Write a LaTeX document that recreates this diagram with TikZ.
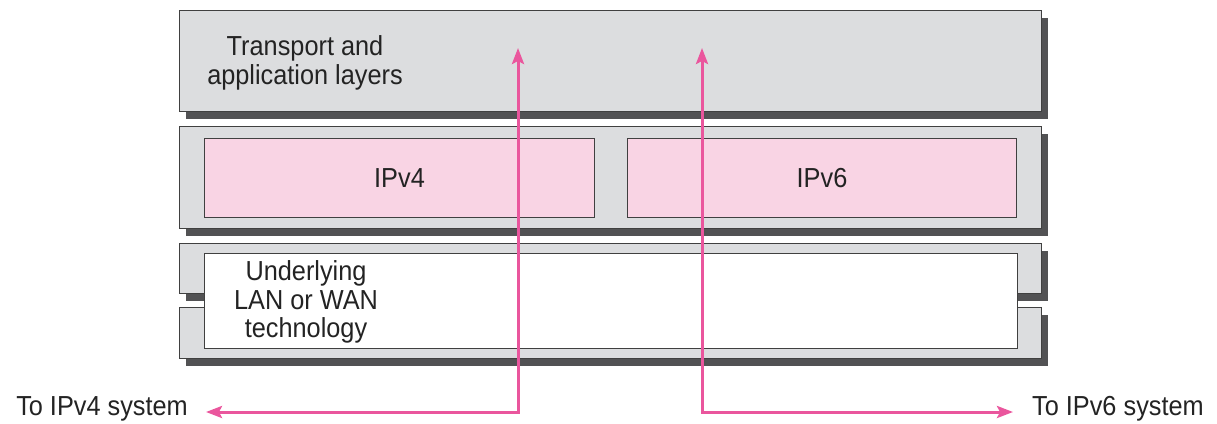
\documentclass[tikz,border=0pt]{standalone}
\usepackage{fontspec}
\setmainfont{Liberation Sans}[FakeStretch=0.92]
\usetikzlibrary{arrows.meta,shadows}
\definecolor{boxgray}{RGB}{220,221,223}
\definecolor{shadowgray}{RGB}{82,82,84}
\definecolor{ipfill}{RGB}{249,212,228}
\definecolor{arrowpink}{RGB}{234,86,157}
\definecolor{txt}{RGB}{35,35,35}
\tikzset{
  layer/.style={draw=black!75, fill=boxgray, line width=1pt, inner sep=0pt, anchor=north west,
    drop shadow={shadow xshift=6pt, shadow yshift=-7pt, fill=shadowgray, opacity=1}},
  ipbox/.style={draw=black!75, fill=ipfill, line width=1pt, inner sep=0pt, anchor=north west},
  netbox/.style={draw=black!75, fill=white, line width=1pt, inner sep=0pt, anchor=north west},
  lbl/.style={text=txt, font=\fontsize{27.5}{28.5}\selectfont, inner sep=0pt, align=center},
  flow/.style={draw=arrowpink, line width=3pt, {Stealth[length=16pt,width=12pt,inset=3pt]}-{Stealth[length=16pt,width=12pt,inset=3pt]}}
}
\begin{document}
\begin{tikzpicture}[x=1pt,y=-1pt]
\useasboundingbox (0,0) rectangle (1217,423);
% layers
\node[layer, minimum width=862pt, minimum height=101pt] (top) at (179,10) {};
\node[layer, minimum width=862pt, minimum height=102pt] (mid) at (179,126) {};
\node[ipbox, minimum width=390pt, minimum height=79pt] (v4) at (204,138) {};
\node[ipbox, minimum width=389pt, minimum height=79pt] (v6) at (627,138) {};
\node[layer, minimum width=862pt, minimum height=50pt] (lowA) at (179,243) {};
\node[layer, minimum width=862pt, minimum height=51pt] (lowB) at (179,307) {};
\node[netbox, minimum width=813pt, minimum height=95pt] (net) at (204,253) {};
% labels
\node[lbl] (toptxt) at (305,63) {Transport and\\application layers};
\node[lbl] (v4txt) at (v4.center) {IPv4};
\node[lbl] (v6txt) at (v6.center) {IPv6};
\node[lbl] (nettxt) at (306,302) {Underlying\\LAN or WAN\\technology};
\node[lbl, anchor=base east] (to4) at (188,415) {To IPv4 system};
\node[lbl, anchor=base west] (to6) at (1032,415) {To IPv6 system};
% arrows
\coordinate (a4top) at (518,48);
\coordinate (a4bend) at (518,412);
\coordinate (a4end) at (206,412);
\coordinate (a6top) at (702,48);
\coordinate (a6bend) at (702,412);
\coordinate (a6end) at (1013,412);
\draw[flow] (a4top) -- (a4bend) -- (a4end);
\draw[flow] (a6top) -- (a6bend) -- (a6end);
\end{tikzpicture}
\end{document}
